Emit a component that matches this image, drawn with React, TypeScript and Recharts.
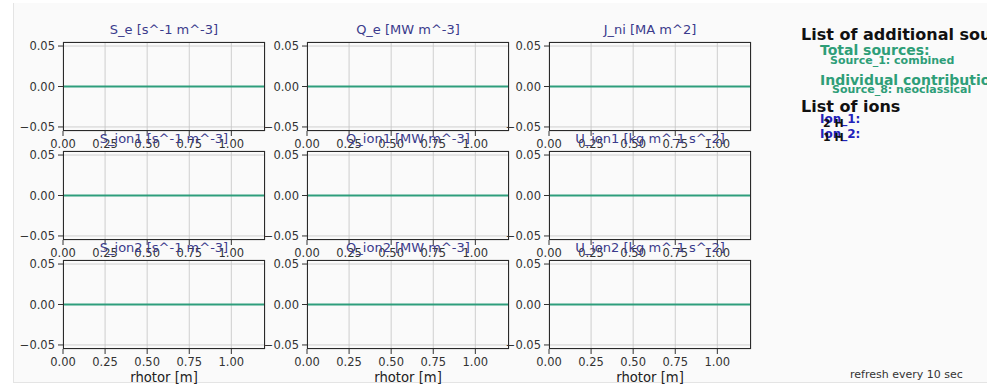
import React from "react";
import { LineChart, Line, XAxis, YAxis, CartesianGrid } from "recharts";

// radial grid (rho_tor) and the flat profiles of every panel
const RHOTOR = [0, 0.1, 0.2, 0.3, 0.4, 0.5, 0.6, 0.7, 0.8, 0.9, 1.0, 1.1, 1.2];
const S_E = [0, 0, 0, 0, 0, 0, 0, 0, 0, 0, 0, 0, 0];
const Q_E = [0, 0, 0, 0, 0, 0, 0, 0, 0, 0, 0, 0, 0];
const J_NI = [0, 0, 0, 0, 0, 0, 0, 0, 0, 0, 0, 0, 0];
const S_ION1 = [0, 0, 0, 0, 0, 0, 0, 0, 0, 0, 0, 0, 0];
const Q_ION1 = [0, 0, 0, 0, 0, 0, 0, 0, 0, 0, 0, 0, 0];
const U_ION1 = [0, 0, 0, 0, 0, 0, 0, 0, 0, 0, 0, 0, 0];
const S_ION2 = [0, 0, 0, 0, 0, 0, 0, 0, 0, 0, 0, 0, 0];
const Q_ION2 = [0, 0, 0, 0, 0, 0, 0, 0, 0, 0, 0, 0, 0];
const U_ION2 = [0, 0, 0, 0, 0, 0, 0, 0, 0, 0, 0, 0, 0];

const TITLES = [
  "S_e [s^-1 m^-3]", "Q_e [MW m^-3]", "J_ni [MA m^2]",
  "S_ion1 [s^-1 m^-3]", "Q_ion1 [MW m^-3]", "U_ion1 [kg m^-1 s^-2]",
  "S_ion2 [s^-1 m^-3]", "Q_ion2 [MW m^-3]", "U_ion2 [kg m^-1 s^-2]",
];
const SERIES = [S_E, Q_E, J_NI, S_ION1, Q_ION1, U_ION1, S_ION2, Q_ION2, U_ION2];

const X_TICKS = [0, 0.25, 0.5, 0.75, 1.0];
const Y_TICKS = [-0.05, 0, 0.05];
const X_LABEL = "rhotor [m]";

const FONT = "'DejaVu Sans', Verdana, sans-serif";
const LINE_COLOR = "#2e9e7c";
const TITLE_COLOR = "#3b3b8c";
const GREEN = "#2e9e78";

// panel geometry (plot area in page pixels)
const COL_LEFT = [63, 307, 549];
const ROW_TOP = [42, 151, 260];
const PLOT_W = 202;
const PLOT_H = 89;
const Y_AXIS_W = 50;

const fmtTick = (v: number) => {
  const s = Math.abs(v).toFixed(2);
  return v < 0 ? "\u2212" + s : s;
};

function Panel({ idx }: { idx: number }) {
  const col = idx % 3;
  const row = Math.floor(idx / 3);
  const left = COL_LEFT[col];
  const top = ROW_TOP[row];
  const data = RHOTOR.map((r, i) => ({ x: r, y: SERIES[idx][i] }));
  const tickStyle = { fontSize: 11.5, fill: "#333", fontFamily: FONT };

  return (
    <>
      <div
        style={{
          position: "absolute",
          left: left - Y_AXIS_W,
          top: top - 5,
        }}
      >
        <LineChart
          width={Y_AXIS_W + PLOT_W + 5}
          height={5 + PLOT_H + 26}
          data={data}
          margin={{ top: 5, right: 5, bottom: 0, left: 0 }}
        >
          <CartesianGrid stroke="#c4c4c4" strokeWidth={0.8} />
          <XAxis
            dataKey="x"
            type="number"
            domain={[0, 1.2]}
            ticks={X_TICKS}
            tickFormatter={fmtTick}
            allowDataOverflow
            height={26}
            tick={tickStyle}
            tickSize={5}
            tickMargin={4}
            axisLine={false}
            tickLine={{ stroke: "#333" }}
          />
          <YAxis
            type="number"
            domain={[-0.055, 0.055]}
            ticks={Y_TICKS}
            tickFormatter={fmtTick}
            allowDataOverflow
            width={Y_AXIS_W}
            tick={tickStyle}
            tickSize={5}
            tickMargin={3}
            axisLine={false}
            tickLine={{ stroke: "#333" }}
          />
          <Line
            type="linear"
            dataKey="y"
            stroke={LINE_COLOR}
            strokeWidth={2.2}
            dot={false}
            isAnimationActive={false}
          />
        </LineChart>
      </div>
      {/* axes frame */}
      <div
        style={{
          position: "absolute",
          left,
          top,
          width: PLOT_W,
          height: PLOT_H,
          border: "1.2px solid #2a2a2a",
          boxSizing: "border-box",
          pointerEvents: "none",
        }}
      />
      <div
        style={{
          position: "absolute",
          left,
          width: PLOT_W,
          top: top - 20,
          textAlign: "center",
          fontFamily: FONT,
          fontSize: 13,
          color: TITLE_COLOR,
          lineHeight: "16px",
          whiteSpace: "nowrap",
        }}
      >
        {TITLES[idx]}
      </div>
      {row === 2 && (
        <div
          style={{
            position: "absolute",
            left,
            width: PLOT_W,
            top: 370,
            textAlign: "center",
            fontFamily: FONT,
            fontSize: 13.2,
            color: "#222",
            lineHeight: "16px",
          }}
        >
          {X_LABEL}
        </div>
      )}
    </>
  );
}

function Txt({
  x, y, size, color, bold = true, children,
}: {
  x: number; y: number; size: number; color: string; bold?: boolean; children: React.ReactNode;
}) {
  return (
    <div
      style={{
        position: "absolute",
        left: x,
        top: y - size * 0.6,
        fontFamily: FONT,
        fontSize: size,
        fontWeight: bold ? "bold" : "normal",
        color,
        lineHeight: `${size * 1.2}px`,
        whiteSpace: "nowrap",
      }}
    >
      {children}
    </div>
  );
}

export default function App() {
  return (
    <div
      style={{
        position: "absolute",
        left: 0,
        top: 0,
        width: 987,
        height: 387,
        overflow: "hidden",
        background: "#ffffff",
      }}
    >
      <div
        style={{
          position: "absolute",
          left: 13,
          top: 3,
          width: 974,
          height: 379,
          background: "#fafafa",
          borderLeft: "1px solid #e4e4e4",
          borderBottom: "1px solid #e4e4e4",
        }}
      />
      {TITLES.map((_, i) => (
        <Panel key={i} idx={i} />
      ))}

      {/* right-hand info text */}
      <Txt x={801} y={35} size={16} color="#111">List of additional sources</Txt>
      <Txt x={820} y={50} size={14} color={GREEN}>Total sources:</Txt>
      <Txt x={830} y={61} size={11} color={GREEN}>Source_1: combined</Txt>
      <Txt x={820} y={80} size={14} color={GREEN}>Individual contributions:</Txt>
      <Txt x={832} y={90} size={11} color={GREEN}>Source_8: neoclassical</Txt>
      <Txt x={801} y={107} size={16} color="#111">List of ions</Txt>
      <Txt x={820} y={119} size={12} color="#2222bb">Ion_1:</Txt>
      <Txt x={823} y={124} size={11} color="#111">2 H</Txt>
      <Txt x={820} y={134} size={12} color="#2222bb">Ion_2:</Txt>
      <Txt x={823} y={138} size={11} color="#111">1 H</Txt>

      <Txt x={850} y={375} size={11} color="#333" bold={false}>refresh every 10 sec</Txt>
    </div>
  );
}
